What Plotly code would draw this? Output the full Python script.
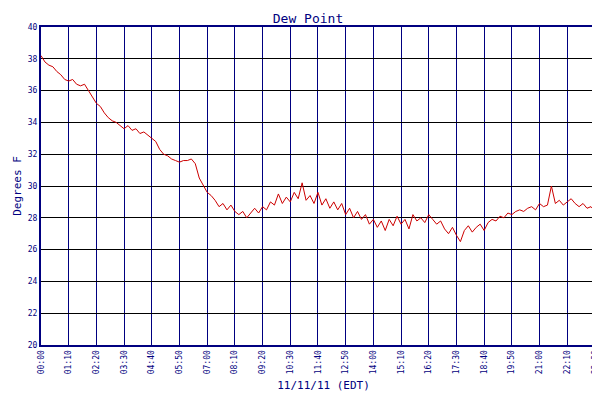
import plotly.graph_objects as go

minutes = list(range(0, 1430, 10)) + [1428]
dew = [38.2,37.8,37.6,37.5,37.2,37.0,36.7,36.6,36.7,36.4,36.3,36.4,36.0,35.6,35.2,35.0,34.6,34.3,34.1,34.0,33.8,33.6,33.8,33.5,33.6,33.3,33.4,33.2,33.0,32.8,32.3,32.0,31.9,31.7,31.6,31.5,31.6,31.6,31.7,31.4,30.5,30.0,29.6,29.4,29.1,28.7,28.9,28.5,28.8,28.4,28.2,28.4,28.0,28.3,28.6,28.3,28.7,28.5,29.0,28.8,29.5,28.9,29.3,29.0,29.6,29.2,30.2,29.1,29.4,28.9,29.6,28.8,29.2,28.6,29.0,28.5,28.9,28.2,28.6,28.0,28.4,27.9,28.2,27.6,27.9,27.4,27.8,27.2,27.9,27.5,28.1,27.6,27.9,27.3,28.2,27.8,28.0,27.7,28.2,27.9,27.6,27.8,27.3,27.0,27.4,26.9,26.5,27.2,27.5,27.1,27.4,27.6,27.2,27.7,27.9,27.8,28.1,28.0,28.3,28.2,28.4,28.5,28.4,28.6,28.7,28.5,28.9,28.7,28.8,30.0,28.9,29.1,28.8,29.0,29.2,28.9,28.7,28.9,28.6,28.7,28.4,28.2]
dew = dew[:len(minutes)]
while len(dew) < len(minutes):
    dew.append(28.2)

tick_vals = list(range(0, 1401, 70)) + [1428]
tick_text = [f"{v//60:02d}:{v%60:02d}" for v in tick_vals]
y_ticks = list(range(20, 41, 2))

navy = "#000080"
font = "DejaVu Sans Mono"
fig = go.Figure(go.Scatter(x=minutes, y=dew, mode="lines", name="Dew Point",
                           line=dict(color="#cc0000", width=1)))
fig.update_layout(
    width=600, height=400, paper_bgcolor="white", plot_bgcolor="white",
    margin=dict(l=33, r=2, t=19, b=63, autoexpand=False),
    title=dict(text="Dew Point", x=0.5, y=0.985, xanchor="center", yanchor="top",
               font=dict(family=font, size=13, color=navy)),
    font=dict(family=font, color=navy, size=9),
    showlegend=True,
    legend=dict(orientation="h", x=0.52, xanchor="center", y=-0.245, yanchor="top",
                font=dict(size=9, color=navy)),
    xaxis=dict(range=[0, 1428], tickvals=tick_vals, ticktext=tick_text, tickangle=-90,
               showgrid=True, gridcolor=navy, gridwidth=1, showline=True, linecolor=navy,
               linewidth=2, mirror=True, ticks="", tickfont=dict(size=8), automargin=False,
               title=dict(text="11/11/11 (EDT)", font=dict(size=11), standoff=8), zeroline=False),
    yaxis=dict(range=[20, 40], tickvals=y_ticks, showgrid=True, gridcolor="black", gridwidth=1,
               showline=True, linecolor=navy, linewidth=2, mirror=True, ticks="", automargin=False,
               tickfont=dict(size=8), title=dict(text="Degrees F", font=dict(size=11), standoff=4),
               zeroline=False),
)
fig.write_html("out.html")
